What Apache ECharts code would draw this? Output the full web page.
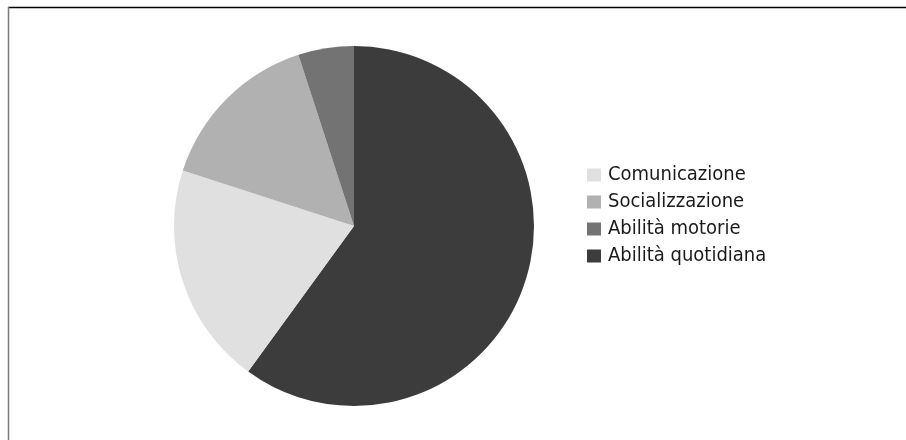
<!DOCTYPE html>
<html>
<head>
<meta charset="utf-8">
<script src="https://cdn.jsdelivr.net/npm/echarts@6/dist/echarts.min.js"></script>
<style>
  html, body { margin: 0; padding: 0; background: #ffffff; }
  #chart { width: 906px; height: 440px; }
</style>
</head>
<body>
<div id="chart"></div>
<script>
// Legend order
const categories = ['Comunicazione', 'Socializzazione', 'Abilità motorie', 'Abilità quotidiana'];
// Share of each area (percent)
const values = [20, 15, 5, 60];
const colors = ['#e0e0e0', '#b1b1b1', '#737373', '#3c3c3c'];
// Slices are laid out clockwise from 12 o'clock in this order
const sliceOrder = ['Abilità quotidiana', 'Comunicazione', 'Socializzazione', 'Abilità motorie'];

const pieData = sliceOrder.map(function (name) {
  const i = categories.indexOf(name);
  return { name: name, value: values[i], itemStyle: { color: colors[i] } };
});

const chart = echarts.init(document.getElementById('chart'), null, { renderer: 'canvas' });
chart.setOption({
  animation: false,
  backgroundColor: '#ffffff',
  legend: {
    data: categories,
    orient: 'vertical',
    left: 582,
    top: 160,
    itemWidth: 14,
    itemHeight: 13,
    itemGap: 7,
    icon: 'rect',
    selectedMode: false,
    textStyle: {
      fontFamily: 'DejaVu Sans Condensed, DejaVu Sans',
      fontSize: 20,
      lineHeight: 20,
      color: '#1a1a1a',
      padding: [0, 0, 0, 2]
    }
  },
  graphic: [
    { type: 'line', shape: { x1: 8, y1: 7.5, x2: 906, y2: 7.5 }, style: { stroke: '#000000', lineWidth: 1.5 } },
    { type: 'line', shape: { x1: 8.5, y1: 7, x2: 8.5, y2: 440 }, style: { stroke: '#7a7a7a', lineWidth: 1.5 } }
  ],
  series: [{
    type: 'pie',
    center: [354, 226],
    radius: [0, 180],
    startAngle: 90,
    clockwise: true,
    label: { show: false },
    labelLine: { show: false },
    emphasis: { disabled: true },
    itemStyle: { borderWidth: 0 },
    data: pieData
  }]
});
</script>
</body>
</html>
